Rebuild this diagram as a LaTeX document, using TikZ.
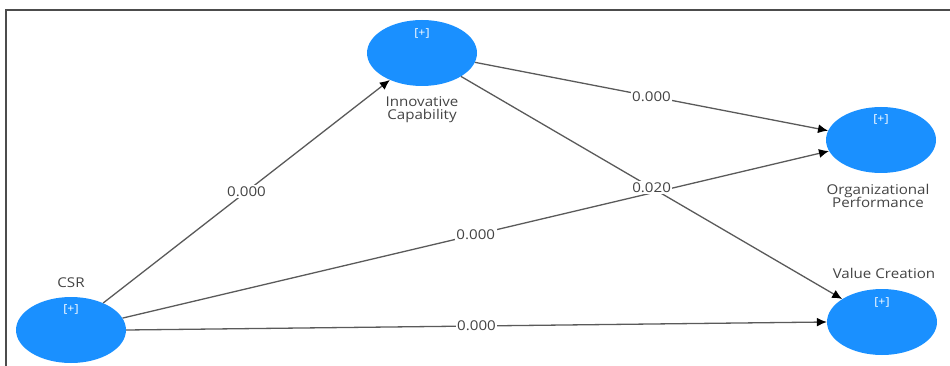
\documentclass[tikz,border=0pt]{standalone}
\usepackage{fontspec}
\setmainfont{Open Sans}[FakeStretch=1.12]
\usetikzlibrary{shapes.geometric,arrows.meta}
\definecolor{lvblue}{HTML}{1A90FF}
\definecolor{txtgray}{HTML}{444444}
\definecolor{linegray}{HTML}{5A5A5A}
\begin{document}
\begin{tikzpicture}[x=1pt,y=-1pt,
  lv/.style={ellipse,fill=lvblue,draw=none,minimum width=110pt,minimum height=66pt,inner sep=0pt},
  plus/.style={text=white,font=\fontsize{11}{13}\selectfont},
  lbl/.style={text=txtgray,font=\fontsize{13.5}{16}\selectfont,align=center},
  path/.style={draw=linegray,line width=1.3pt,-{Latex[length=10pt,width=9pt,color=black]}},
  coef/.style={fill=white,inner sep=1.5pt,text=txtgray,font=\fontsize{13.5}{16}\selectfont,pos=0.5}]
\useasboundingbox (0,0) rectangle (950,366);
\coordinate (fA) at (6,366);
\coordinate (fB) at (6,10);
\coordinate (fC) at (950,10);
\draw[line width=1.6pt,gray!60!black] (fA) -- (fB) -- (fC);
\node[lv] (ic) at (422,53) {};
\node[lv] (op) at (881,140) {};
\node[lv] (vc) at (882,322) {};
\node[lv] (csr) at (71,330) {};
\node[plus] (icp) at (422,33) {[+]};
\node[plus] (opp) at (881,119) {[+]};
\node[plus] (vcp) at (882,302) {[+]};
\node[plus] (csrp) at (71,309) {[+]};
\node[lbl] (icl) at (422,110) {Innovative\\[-3pt]Capability};
\node[lbl] (opl) at (878,196) {Organizational\\[-3pt]Performance};
\node[lbl] (vcl) at (884,273) {Value Creation};
\node[lbl] (csrl) at (71,283) {CSR};
\draw[path] (csr.40) -- node[coef] {0.000} (ic.220);
\draw[path] (csr.13) -- node[coef] {0.000} (op.192);
\draw[path] (csr.east) -- node[coef] {0.000} (vc.west);
\draw[path] (ic.350) -- node[coef] {0.000} (op.170);
\draw[path] (ic.329) -- node[coef] {0.020} (vc.150);
\end{tikzpicture}
\end{document}
